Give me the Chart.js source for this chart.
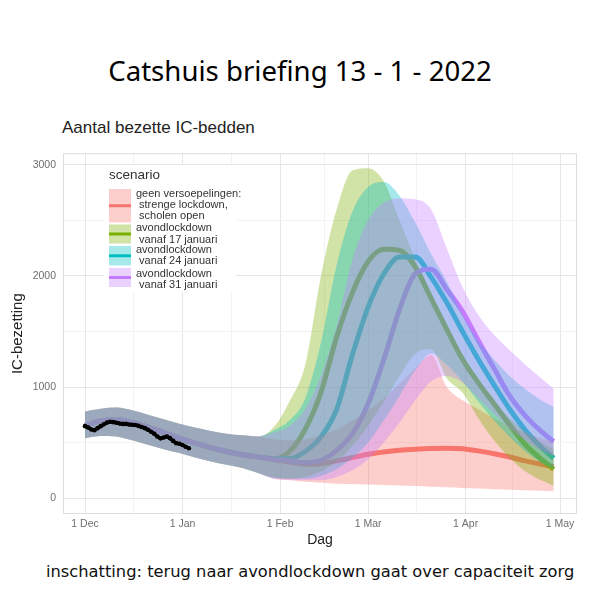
<!DOCTYPE html>
<html>
<head>
<meta charset="utf-8">
<script src="https://cdn.jsdelivr.net/npm/chart.js@4.4.1/dist/chart.umd.min.js"></script>
<style>
    body { margin: 0; background: #fff; width: 600px; height: 600px; position: relative; overflow: hidden; }
    #head { position: absolute; top: 50px; left: 0; width: 600px; text-align: center; font: 27.6px "Noto Sans", sans-serif; line-height: 40px; color: #000; }
    #sub { position: absolute; left: 62px; top: 116px; font: 17px "Liberation Sans", Arial, sans-serif; line-height: 24px; color: #222; }
    #foot { position: absolute; left: 46px; top: 561px; font: 16.3px "DejaVu Sans", sans-serif; line-height: 22px; white-space: nowrap; color: #111; }
    #wrap { position: absolute; left: 0; top: 140px; width: 600px; height: 420px; }
</style>
</head>
<body>
<div id="head">Catshuis briefing 13 - 1 - 2022</div>
<div id="sub">Aantal bezette IC-bedden</div>
<div id="wrap"><canvas id="chart" width="600" height="420"></canvas></div>
<div id="foot">inschatting: terug naar avondlockdown gaat over capaciteit zorg</div>
<script>
// days since 1 Dec 2021
const days = [0,5,10,15,20,25,30,35,40,45,50,55,60,65,70,75,80,85,90,95,100,105,110,115,120,125,130,135,140,145,149];

// model part shared by all scenarios (day 0 - 55)
const sharedLine  = [650, 695, 705, 680, 640, 590, 540, 495, 455, 420, 390, 370];
const sharedUpper = [780, 805, 815, 790, 750, 710, 670, 635, 605, 580, 565, 555];
const sharedLower = [540, 560, 555, 520, 480, 440, 405, 365, 330, 300, 270, 225];

// day 60 - 149 per scenario
const redLine     = [345, 325, 305, 310, 335, 365, 395, 415, 430, 440, 447, 450, 445, 425, 400, 370, 335, 305, 285];
const redUpper    = [530, 520, 530, 565, 620, 700, 790, 900, 1030, 1170, 1290, 1000, 880, 800, 720, 650, 590, 540, 509];
const redLower    = [175, 160, 148, 138, 130, 126, 122, 118, 113, 108, 103, 98, 92, 86, 80, 75, 70, 66, 62];

const greenLine   = [355, 420, 620, 950, 1450, 1850, 2130, 2240, 2230, 2080, 1800, 1520, 1250, 1040, 850, 660, 480, 350, 260];
const greenUpper  = [640, 870, 1200, 2000, 2600, 2950, 2970, 2850, 2500, 2150, 1850, 1550, 1280, 1050, 870, 720, 600, 500, 440];
const greenLower  = [185, 175, 190, 240, 330, 470, 650, 870, 1100, 1300, 1340, 1080, 950, 720, 520, 360, 240, 160, 110];

const tealLine    = [355, 355, 420, 550, 800, 1290, 1720, 2020, 2170, 2170, 1990, 1760, 1500, 1250, 1020, 800, 610, 460, 360];
const tealUpper   = [610, 700, 900, 1400, 2100, 2580, 2800, 2845, 2720, 2480, 2200, 1950, 1650, 1420, 1250, 1100, 980, 880, 820];
const tealLower   = [180, 175, 175, 200, 260, 360, 500, 700, 920, 1150, 1300, 1200, 1050, 870, 700, 550, 420, 320, 260];

const purpleLine  = [350, 335, 320, 340, 430, 580, 850, 1250, 1700, 2020, 2060, 1880, 1680, 1420, 1170, 920, 740, 600, 510];
const purpleUpper = [590, 650, 800, 1100, 1550, 2150, 2500, 2660, 2700, 2690, 2600, 2250, 1900, 1650, 1470, 1330, 1200, 1080, 985];
const purpleLower = [175, 165, 160, 160, 190, 250, 350, 500, 680, 880, 1050, 1100, 1040, 900, 760, 630, 520, 430, 380];

// observed IC occupancy, daily from 1 Dec
const observed = [648, 635, 618, 612, 630, 648, 665, 680, 688, 684, 678, 672, 668, 668, 662, 660, 658, 650,
                  640, 630, 615, 598, 580, 555, 538, 545, 554, 540, 515, 495, 490, 478, 462, 449];

const scenarioLabels = [
    ['geen versoepelingen:', ' strenge lockdown,', ' scholen open'],
    ['avondlockdown', ' vanaf 17 januari'],
    ['avondlockdown', ' vanaf 24 januari'],
    ['avondlockdown', ' vanaf 31 januari']
];
const scenarioColors = ['#F8766D', '#7CAE00', '#00BFC4', '#C77CFF'];
const scenarioFills = ['rgba(248,118,109,0.35)', 'rgba(124,174,0,0.35)', 'rgba(0,191,196,0.35)', 'rgba(199,124,255,0.35)'];

const xTickDays = [0, 31, 62, 90, 121, 151];
const xTickLabels = ['1 Dec', '1 Jan', '1 Feb', '1 Mar', '1 Apr', '1 May'];
const xMinorDays = [15.5, 46.5, 76, 105.5, 136];
const yTicks = [0, 1000, 2000, 3000];
const yMinor = [500, 1500, 2500];

const lines = [redLine, greenLine, tealLine, purpleLine];
const uppers = [redUpper, greenUpper, tealUpper, purpleUpper];
const lowers = [redLower, greenLower, tealLower, purpleLower];

function pts(vals) {
    return vals.map((v, i) => ({ x: days[i], y: v }));
}

const datasets = [];
// lines first (drawn underneath the ribbons, like the original)
for (let i = 0; i < 4; i++) {
    datasets.push({
        data: pts(sharedLine.concat(lines[i])),
        borderColor: scenarioColors[i],
        borderWidth: 5,
        pointRadius: 0,
        fill: false,
        cubicInterpolationMode: 'monotone',
        order: 20 - i
    });
}
for (let i = 0; i < 4; i++) {
    datasets.push({
        data: pts(sharedUpper.concat(uppers[i])),
        borderWidth: 0,
        borderColor: 'rgba(0,0,0,0)',
        backgroundColor: scenarioFills[i],
        pointRadius: 0,
        fill: '+1',
        cubicInterpolationMode: 'monotone',
        order: 10 - i
    });
    datasets.push({
        data: pts(sharedLower.concat(lowers[i])),
        borderWidth: 0,
        borderColor: 'rgba(0,0,0,0)',
        pointRadius: 0,
        fill: false,
        cubicInterpolationMode: 'monotone',
        order: 10 - i
    });
}
datasets.push({
    data: observed.map((v, i) => ({ x: i, y: v })),
    borderColor: '#000',
    backgroundColor: '#000',
    borderWidth: 3.5,
    pointRadius: 2.3,
    pointBorderWidth: 0,
    fill: false,
    order: 0
});

const majorGrid = '#e6e6e6';
const minorGrid = '#f3f3f3';

// legend drawn inside the panel, ggplot style
const scenarioLegend = {
    id: 'scenarioLegend',
    afterDraw(chart) {
        const ctx = chart.ctx;
        const area = chart.chartArea;
        ctx.save();
        ctx.strokeStyle = '#dedede';
        ctx.lineWidth = 1;
        ctx.strokeRect(area.left + 0.5, area.top + 0.5, area.right - area.left - 1, area.bottom - area.top - 1);

        ctx.fillStyle = '#fff';
        ctx.fillRect(104, 25, 132, 127);

        ctx.fillStyle = '#333';
        ctx.font = '13.5px "Liberation Sans", Arial, sans-serif';
        ctx.textBaseline = 'middle';
        ctx.fillText('scenario', 109, 35);

        const keyTop = [48, 83.5, 105, 127];
        const keyBottom = [83.5, 104.5, 126.5, 148];
        const textY = [[53.5, 64.5, 75.5], [88, 99.5], [109.5, 121], [133.5, 145]];
        ctx.font = '11px "Liberation Sans", Arial, sans-serif';
        for (let i = 0; i < 4; i++) {
            const y0 = keyTop[i], h = keyBottom[i] - keyTop[i];
            ctx.strokeStyle = scenarioColors[i];
            ctx.lineWidth = 3;
            ctx.beginPath();
            ctx.moveTo(109, y0 + h / 2);
            ctx.lineTo(131, y0 + h / 2);
            ctx.stroke();
            ctx.fillStyle = scenarioFills[i];
            ctx.fillRect(109, y0 + 1, 22, h - 2);
            ctx.fillStyle = '#333';
            scenarioLabels[i].forEach((t, j) => ctx.fillText(t, 136, textY[i][j]));
        }
        ctx.restore();
    }
};

Chart.defaults.font.family = '"Liberation Sans", Arial, sans-serif';

new Chart(document.getElementById('chart'), {
    type: 'line',
    data: { datasets: datasets },
    plugins: [scenarioLegend],
    options: {
        responsive: false,
        animation: false,
        events: [],
        layout: { padding: { left: 0, right: 23, top: 10, bottom: 0 } },
        plugins: {
            legend: { display: false },
            tooltip: { enabled: false },
            filler: { drawTime: 'beforeDatasetDraw' }
        },
        scales: {
            x: {
                type: 'linear',
                min: -7,
                max: 156.4,
                afterFit: s => { s.height = 46; },
                afterBuildTicks: s => {
                    s.ticks = xTickDays.concat(xMinorDays).sort((a, b) => a - b).map(v => ({ value: v }));
                },
                border: { display: false },
                grid: {
                    drawTicks: false,
                    color: c => xTickDays.includes(c.tick.value) ? majorGrid : minorGrid
                },
                ticks: {
                    autoSkip: false,
                    maxRotation: 0,
                    padding: 4,
                    color: '#6e6e6e',
                    font: { size: 10.5 },
                    callback: v => {
                        const k = xTickDays.indexOf(v);
                        return k >= 0 ? xTickLabels[k] : '';
                    }
                },
                title: {
                    display: true,
                    text: 'Dag',
                    color: '#222',
                    font: { size: 14 },
                    padding: { top: 0, bottom: 11 }
                }
            },
            y: {
                min: -143,
                max: 3104,
                afterFit: s => { s.width = 63; },
                afterBuildTicks: s => {
                    s.ticks = yTicks.concat(yMinor).sort((a, b) => a - b).map(v => ({ value: v }));
                },
                border: { display: false },
                grid: {
                    drawTicks: false,
                    color: c => yTicks.includes(c.tick.value) ? majorGrid : minorGrid
                },
                ticks: {
                    padding: 7,
                    color: '#6e6e6e',
                    font: { size: 10.5 },
                    callback: v => yTicks.includes(v) ? String(v) : ''
                },
                title: {
                    display: true,
                    text: 'IC-bezetting',
                    color: '#222',
                    font: { size: 15 },
                    padding: { top: 9, bottom: 0 }
                }
            }
        }
    }
});
</script>
</body>
</html>
